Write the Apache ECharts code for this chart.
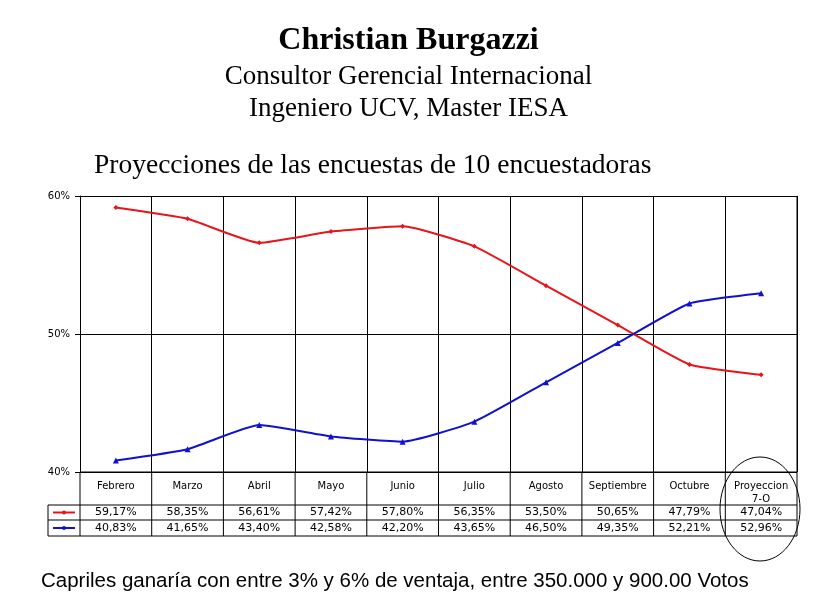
<!DOCTYPE html>
<html lang="es">
<head>
<meta charset="UTF-8">
<script src="https://cdn.jsdelivr.net/npm/echarts@6/dist/echarts.min.js"></script>
<style>
  body { margin: 0; background: #fff; }
  #chart { width: 817px; height: 613px; }
</style>
</head>
<body>
<div id="chart"></div>
<script>
const months = ['Febrero', 'Marzo', 'Abril', 'Mayo', 'Junio', 'Julio', 'Agosto', 'Septiembre', 'Octubre', 'Proyeccion\n7-O'];
const redValues = [59.17, 58.35, 56.61, 57.42, 57.80, 56.35, 53.50, 50.65, 47.79, 47.04];
const blueValues = [40.83, 41.65, 43.40, 42.58, 42.20, 43.65, 46.50, 49.35, 52.21, 52.96];
const yTicks = [40, 50, 60];

const fmt = v => v.toFixed(2).replace('.', ',') + '%';
const chart = echarts.init(document.getElementById('chart'));
const L = 80, R = 797, T = 196, B = 472;

chart.setOption({
  animation: false,
  title: [
    { text: 'Christian Burgazzi', left: 'center', top: 20, textStyle: { fontFamily: 'Liberation Serif', fontSize: 32, fontWeight: 'bold', color: '#000' } },
    { text: 'Consultor Gerencial Internacional', left: 'center', top: 58, textStyle: { fontFamily: 'Liberation Serif', fontSize: 27, fontWeight: 'normal', color: '#000' } },
    { text: 'Ingeniero UCV, Master IESA', left: 'center', top: 90, textStyle: { fontFamily: 'Liberation Serif', fontSize: 27, fontWeight: 'normal', color: '#000' } },
    { text: 'Proyecciones de las encuestas de 10 encuestadoras', left: 89, top: 147, textStyle: { fontFamily: 'Liberation Serif', fontSize: 27.5, fontWeight: 'normal', color: '#000' } },
    { text: 'Capriles ganaría con entre 3% y 6% de ventaja, entre 350.000 y 900.00 Votos', left: 36, top: 566, textStyle: { fontFamily: 'Liberation Sans', fontSize: 20.5, fontWeight: 'normal', color: '#000' } }
  ],
  grid: { left: L, right: 817 - R, top: T, bottom: 613 - B },
  xAxis: {
    type: 'category', data: months, boundaryGap: true,
    axisLine: { show: false }, axisTick: { show: false },
    axisLabel: { interval: 0, fontFamily: 'DejaVu Sans', fontSize: 10, color: '#000', margin: 8, lineHeight: 13 },
    splitLine: { show: true, interval: 0, lineStyle: { color: '#000', width: 1 } }
  },
  yAxis: {
    type: 'value', min: yTicks[0], max: yTicks[yTicks.length - 1], interval: 10,
    axisLine: { show: true, lineStyle: { color: '#000' } },
    axisTick: { show: true, length: 5, lineStyle: { color: '#000' } },
    axisLabel: { formatter: '{value}%', fontFamily: 'DejaVu Sans', fontSize: 10, color: '#000', margin: 10 },
    splitLine: { show: true, lineStyle: { color: '#000', width: 1 } }
  },
  series: [
    { type: 'line', data: redValues, smooth: 0.15, color: '#e8141b', lineStyle: { width: 2 }, symbol: 'diamond', symbolSize: 5 },
    { type: 'line', data: blueValues, smooth: 0.15, color: '#1010d0', lineStyle: { width: 2 }, symbol: 'triangle', symbolSize: 6 }
  ]
});

// data table below the axis
const g = [];
const cw = (R - L) / months.length;
const rows = [472, 505, 520, 536];
const line = (x1, y1, x2, y2) => g.push({ type: 'line', shape: { x1, y1, x2, y2 }, style: { stroke: '#000', lineWidth: 1 } });
line(L, rows[0], R, rows[0]);
line(48, rows[1], R, rows[1]);
line(48, rows[2], R, rows[2]);
line(48, rows[3], R, rows[3]);
line(48, rows[1], 48, rows[3]);
for (let i = 0; i <= months.length; i++) line(L + i * cw, rows[0], L + i * cw, rows[3]);
line(R, T, R, rows[0]);
[[redValues, '#e8141b'], [blueValues, '#1010d0']].forEach(([vals, c], r) => {
  const yc = (rows[r + 1] + rows[r + 2]) / 2;
  g.push({ type: 'line', shape: { x1: 53, y1: yc, x2: 75, y2: yc }, style: { stroke: c, lineWidth: 2 } });
  g.push({ type: 'circle', shape: { cx: 64, cy: yc, r: 2 }, style: { fill: c } });
  vals.forEach((v, i) => g.push({
    type: 'text', x: L + (i + 0.5) * cw, y: yc,
    style: { text: fmt(v), fill: '#000', font: '11px DejaVu Sans', align: 'center', verticalAlign: 'middle' }
  }));
});
g.push({ type: 'ellipse', shape: { cx: 760, cy: 509, rx: 40, ry: 52 }, style: { fill: 'none', stroke: '#000', lineWidth: 1 } });
chart.setOption({ graphic: g });
</script>
</body>
</html>
